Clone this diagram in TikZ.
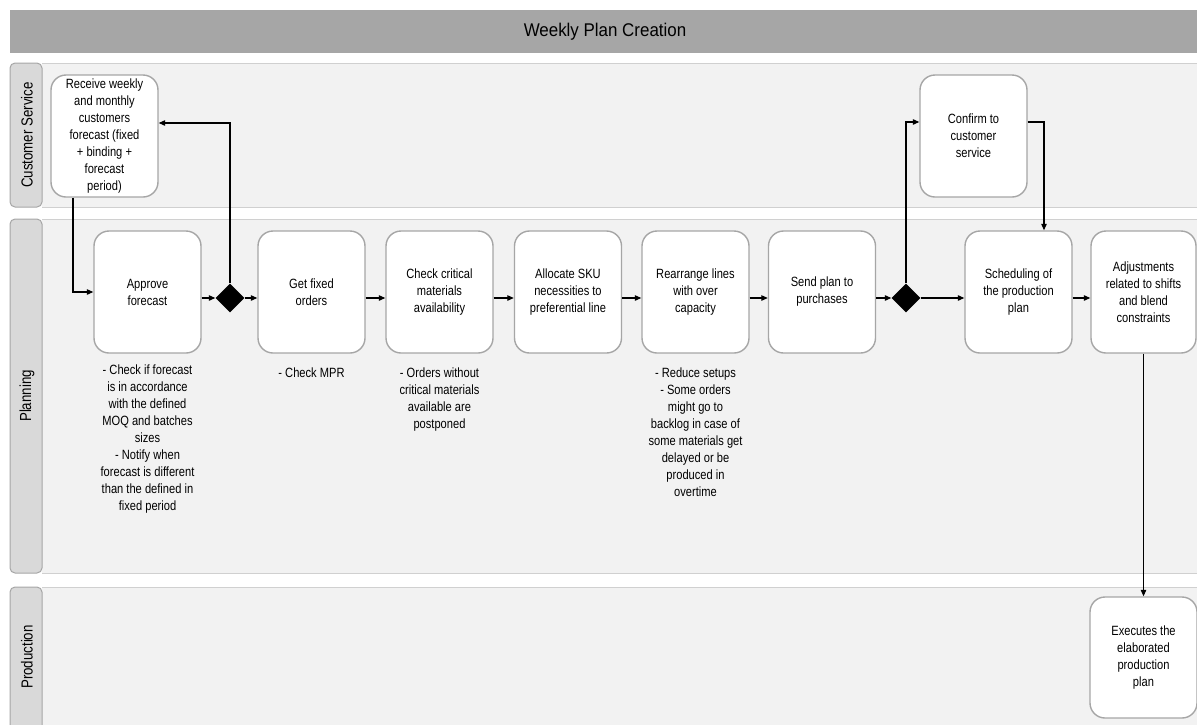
\documentclass[tikz,border=0pt]{standalone}
\usepackage{fontspec}
\setmainfont[FakeStretch=0.83]{Liberation Sans}
\newfontfamily\headfont[FakeStretch=0.92]{Liberation Sans}
\usetikzlibrary{shapes.geometric,arrows.meta}
\definecolor{hdr}{HTML}{A6A6A6}
\definecolor{lanefill}{HTML}{F2F2F2}
\definecolor{laneline}{HTML}{D0D0D0}
\definecolor{tabfill}{HTML}{D9D9D9}
\definecolor{tabline}{HTML}{A6A6A6}
\definecolor{boxline}{HTML}{A6A6A6}

\begin{document}
\begin{tikzpicture}[x=1pt,y=-1pt,
  task/.style={draw=boxline, line width=1.4pt, fill=white, rounded corners=15pt,
    minimum width=107pt, minimum height=122pt, align=center, inner sep=2pt,
    font=\fontsize{13.4}{17}\selectfont},
  gate/.style={diamond, fill=black, draw=none, minimum size=29pt, inner sep=0pt},
  note/.style={align=center, inner sep=0pt, anchor=north,
    font=\fontsize{13.4}{17}\selectfont},
  flow/.style={line width=1.1pt, -{Triangle[length=6.5pt,width=5.5pt]}},
  lanetab/.style={draw=tabline, fill=tabfill, line width=1pt, rounded corners=5pt},
  lanelabel/.style={rotate=90, font=\fontsize{16}{17}\selectfont}
]
\clip (0,0) rectangle (1197,724);

% title bar
\fill[hdr] (10,10) rectangle (1197,53);
\node[font=\headfont\fontsize{18.4}{22}\selectfont] (title) at (605,32) {Weekly Plan Creation};

% swimlane bodies
\fill[lanefill] (42,63) rectangle (1197,207);
\fill[lanefill] (42,219) rectangle (1197,573);
\fill[lanefill] (42,587) rectangle (1197,740);
\draw[laneline] (42,63) -- (1197,63) (42,207) -- (1197,207);
\draw[laneline] (42,219) -- (1197,219) (42,573) -- (1197,573);
\draw[laneline] (42,587) -- (1197,587);

% swimlane tabs
\draw[lanetab] (10,63) rectangle (42,207);
\draw[lanetab] (10,219) rectangle (42,573);
\draw[lanetab] (10,587) rectangle (42,740);
\node[lanelabel] (lcs) at (27,135) {Customer Service};
\node[lanelabel] (lpl) at (27,396) {Planning};
\node[lanelabel] (lpr) at (27,657) {Production};

% tasks
\node[task] (recv) at (104.5,136) {Receive weekly\\and monthly\\customers\\forecast (fixed\\+ binding +\\forecast\\period)};
\node[task] (appr) at (147.5,292) {Approve\\forecast};
\node[task] (fixed) at (311.5,292) {Get fixed\\orders};
\node[task] (crit) at (439.5,292) {Check critical\\materials\\availability};
\node[task] (alloc) at (568,292) {Allocate SKU\\necessities to\\preferential line};
\node[task] (rearr) at (695.5,292) {Rearrange lines\\with over\\capacity};
\node[task] (send) at (822,292) {Send plan to\\purchases};
\node[task] (conf) at (973.5,136) {Confirm to\\customer\\service};
\node[task] (sched) at (1018.5,292) {Scheduling of\\the production\\plan};
\node[task, minimum width=105pt] (adj) at (1143.5,292) {Adjustments\\related to shifts\\and blend\\constraints};
\node[task, minimum height=121pt] (exec) at (1143.5,657.5) {Executes the\\elaborated\\production\\plan};

% gateways
\node[gate] (g1) at (230,298) {};
\node[gate] (g2) at (906,298) {};

% notes
\node[note] (n1) at (147.5,365) {- Check if forecast\\is in accordance\\with the defined\\MOQ and batches\\sizes\\- Notify when\\forecast is different\\than the defined in\\fixed period};
\node[note] (n2) at (311.5,368) {- Check MPR};
\node[note] (n3) at (439.5,368) {- Orders without\\critical materials\\available are\\postponed};
\node[note] (n4) at (695.5,368) {- Reduce setups\\- Some orders\\might go to\\backlog in case of\\some materials get\\delayed or be\\produced in\\overtime};

% flows
\draw[flow] ([xshift=-31.5pt]recv.south) |- (appr.west);
\draw[flow] (appr.east |- g1) -- (g1.west);
\draw[flow] (g1.east) -- (fixed.west |- g1);
\draw[flow] (g1.north) |- ([yshift=13pt]recv.east);
\draw[flow] (fixed.east |- g1) -- (crit.west |- g1);
\draw[flow] (crit.east |- g1) -- (alloc.west |- g1);
\draw[flow] (alloc.east |- g1) -- (rearr.west |- g1);
\draw[flow] (rearr.east |- g1) -- (send.west |- g1);
\draw[flow] (send.east |- g2) -- (g2.west);
\draw[flow] (g2.east) -- (sched.west |- g2);
\draw[flow] (g2.north) |- ([yshift=14pt]conf.west);
\draw[flow] ([yshift=14pt]conf.east) -| ([xshift=25.5pt]sched.north);
\draw[flow] (sched.east |- g2) -- (adj.west |- g2);
\draw[flow] (adj.south) -- (exec.north);
\end{tikzpicture}
\end{document}
